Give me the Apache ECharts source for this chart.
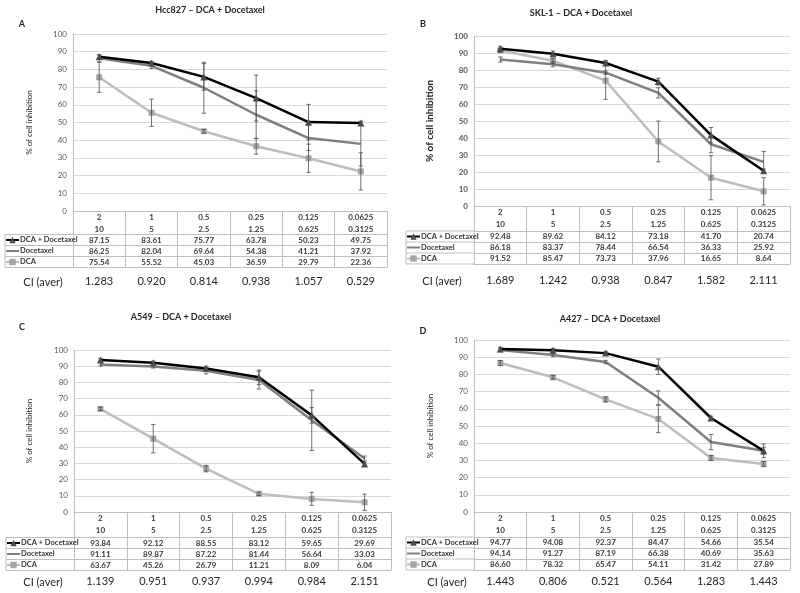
<!DOCTYPE html>
<html><head><meta charset="utf-8">
<script src="https://cdn.jsdelivr.net/npm/echarts@6/dist/echarts.min.js"></script>
<style>html,body{margin:0;padding:0;background:#fff}#c{width:800px;height:593px}</style>
</head><body><div id="c"></div>
<script>
// ---- data ----
const doseDocetaxel = ['2', '1', '0.5', '0.25', '0.125', '0.0625'];
const doseDCA = ['10', '5', '2.5', '1.25', '0.625', '0.3125'];
const seriesNames = ['DCA + Docetaxel', 'Docetaxel', 'DCA'];
const panelTitles = ['Hcc827 – DCA + Docetaxel', 'SKL-1 – DCA + Docetaxel', 'A549 – DCA + Docetaxel', 'A427 – DCA + Docetaxel'];
const panelLetters = ['A', 'B', 'C', 'D'];
const ciLabel = 'CI (aver)';
const yAxisName = '% of cell inhibition';

const hccCombo = [87.15, 83.61, 75.77, 63.78, 50.23, 49.75];
const hccDoc   = [86.25, 82.04, 69.64, 54.38, 41.21, 37.92];
const hccDca   = [75.54, 55.52, 45.03, 36.59, 29.79, 22.36];
const hccCI    = ['1.283', '0.920', '0.814', '0.938', '1.057', '0.529'];
const hccErrCombo = [1, 1, 7.5, 13, 10, 1];
const hccErrDoc   = [2, 1.5, 14.4, 13.5, 7, 12.5];
const hccErrDca   = [8.5, 7.7, 1, 4.5, 8, 10.5];

const sklCombo = [92.48, 89.62, 84.12, 73.18, 41.70, 20.74];
const sklDoc   = [86.18, 83.37, 78.44, 66.54, 36.33, 25.92];
const sklDca   = [91.52, 85.47, 73.73, 37.96, 16.65, 8.64];
const sklCI    = ['1.689', '1.242', '0.938', '0.847', '1.582', '2.111'];
const sklErrCombo = [1.5, 1.5, 1.5, 2, 4.5, 1];
const sklErrDoc   = [1.5, 1.5, 1, 3, 5, 6.2];
const sklErrDca   = [1, 1.5, 11, 12, 13, 8];

const a549Combo = [93.84, 92.12, 88.55, 83.12, 59.65, 29.69];
const a549Doc   = [91.11, 89.87, 87.22, 81.44, 56.64, 33.03];
const a549Dca   = [63.67, 45.26, 26.79, 11.21, 8.09, 6.04];
const a549CI    = ['1.139', '0.951', '0.937', '0.994', '0.984', '2.151'];
const a549ErrCombo = [1, 1, 1.5, 4.5, 4.8, 1];
const a549ErrDoc   = [1, 1, 2, 5.5, 18.6, 1.5];
const a549ErrDca   = [1, 8.8, 2, 1, 4, 5];

const a427Combo = [94.77, 94.08, 92.37, 84.47, 54.66, 35.54];
const a427Doc   = [94.14, 91.27, 87.19, 66.38, 40.69, 35.63];
const a427Dca   = [86.60, 78.32, 65.47, 54.11, 31.42, 27.89];
const a427CI    = ['1.443', '0.806', '0.521', '0.564', '1.283', '1.443'];
const a427ErrCombo = [1, 1, 1, 4.5, 1, 4];
const a427ErrDoc   = [1, 1, 1, 4, 4.4, 2];
const a427ErrDca   = [1.5, 1, 1.5, 8, 1.5, 1.5];

const panels = [
  {combo: hccCombo, doc: hccDoc, dca: hccDca, ci: hccCI, err: [hccErrCombo, hccErrDoc, hccErrDca]},
  {combo: sklCombo, doc: sklDoc, dca: sklDca, ci: sklCI, err: [sklErrCombo, sklErrDoc, sklErrDca]},
  {combo: a549Combo, doc: a549Doc, dca: a549Dca, ci: a549CI, err: [a549ErrCombo, a549ErrDoc, a549ErrDca]},
  {combo: a427Combo, doc: a427Doc, dca: a427Dca, ci: a427CI, err: [a427ErrCombo, a427ErrDoc, a427ErrDca]}
];

// ---- layout (pixels) ----
const layout = [
  {x0: 73,  x1: 387, y0: 34,  y1: 211, h: 23.5, row: 11, ciGap: 8.5, tx: 210, ty: 10,  lx: 22,  ly: 24,  cix: 43,  ciy: 282, nameGap: 40, bold: false},
  {x0: 474, x1: 790, y0: 36,  y1: 206, h: 25,   row: 11, ciGap: 11,  tx: 581, ty: 13,  lx: 423, ly: 24,  cix: 442, ciy: 281, nameGap: 39, bold: true},
  {x0: 74,  x1: 391, y0: 350, y1: 512, h: 25.5, row: 11, ciGap: 5.5, tx: 181, ty: 317, lx: 22,  ly: 327, cix: 43,  ciy: 582, nameGap: 41, bold: false},
  {x0: 474, x1: 790, y0: 340, y1: 512, h: 25,   row: 11, ciGap: 6,   tx: 610, ty: 319, lx: 423, ly: 331, cix: 447, ciy: 582, nameGap: 40, bold: false}
];
const legendColW = 68;

const FONT = 'Lato';
const lineGray = '#bfbfbf';
const styles = [
  {symbol: 'triangle', symbolSize: 7, line: '#000000', item: '#4d4d4d'},
  {symbol: 'circle', symbolSize: 1, line: '#7f7f7f', item: 'rgba(0,0,0,0)', hide: true},
  {symbol: 'rect', symbolSize: 6, line: '#bdbdbd', item: '#a6a6a6'}
];

const grid = [], xAxis = [], yAxis = [], series = [], legend = [], graphic = [];

panels.forEach((p, gi) => {
  const L = layout[gi];
  const base = gi * 5;
  grid.push({left: L.x0, top: L.y0, width: L.x1 - L.x0, height: L.y1 - L.y0, outerBoundsMode: 'none', containLabel: false});
  const tableH = L.h + 3 * L.row;
  xAxis.push({
    type: 'category', gridIndex: gi, data: doseDocetaxel, position: 'bottom', boundaryGap: true,
    axisLine: {show: true, lineStyle: {color: lineGray, width: 1}},
    axisTick: {show: true, interval: 0, length: tableH, lineStyle: {color: lineGray, width: 1}},
    axisLabel: {interval: 0, margin: 0, fontSize: 8, fontWeight: 'bold', color: '#3a3a3a', lineHeight: 12,
      fontFamily: FONT, formatter: (v, i) => v + '\n' + doseDCA[i]}
  });
  const rows = [p.combo, p.doc, p.dca];
  rows.forEach((vals, k) => {
    xAxis.push({
      type: 'category', gridIndex: gi, data: doseDocetaxel, position: 'bottom', offset: L.h + k * L.row,
      axisLine: {show: true, lineStyle: {color: lineGray, width: 1}},
      axisTick: {show: false},
      axisLabel: {interval: 0, margin: 1.5, fontSize: 8, fontWeight: 'bold', color: '#3a3a3a', fontFamily: FONT,
        formatter: (v, i) => vals[i].toFixed(2)}
    });
  });
  xAxis.push({
    type: 'category', gridIndex: gi, data: doseDocetaxel, position: 'bottom', offset: tableH,
    axisLine: {show: true, lineStyle: {color: lineGray, width: 1}},
    axisTick: {show: false},
    axisLabel: {interval: 0, margin: L.ciGap, fontSize: 11, color: '#262626', fontFamily: FONT,
      formatter: (v, i) => p.ci[i]}
  });
  yAxis.push({
    type: 'value', gridIndex: gi, min: 0, max: 100, interval: 10,
    name: yAxisName, nameLocation: 'middle', nameGap: L.nameGap, nameRotate: 90,
    nameTextStyle: {fontSize: L.bold ? 10 : 8, fontWeight: L.bold ? 'bold' : 'normal', color: '#262626', fontFamily: FONT},
    axisLine: {show: true, lineStyle: {color: lineGray}},
    axisTick: {show: false},
    axisLabel: {fontSize: 8, color: '#595959', margin: 6, fontFamily: FONT, fontWeight: L.bold ? 'bold' : 'normal'},
    splitLine: {show: true, lineStyle: {color: '#d9d9d9', width: 1}}
  });
  rows.forEach((vals, k) => {
    const errs = p.err[k];
    series.push({
      type: 'custom', xAxisIndex: base, yAxisIndex: gi, silent: true, z: 6,
      data: vals.map((v, i) => [i, v - errs[i], v + errs[i]]),
      renderItem: (params, api) => {
        const x = api.value(0);
        const lo = api.coord([x, api.value(1)]);
        const hi = api.coord([x, api.value(2)]);
        const w = 2.2;
        const st = {stroke: '#4d4d4d', lineWidth: 0.8};
        return {type: 'group', children: [
          {type: 'line', shape: {x1: lo[0], y1: lo[1], x2: hi[0], y2: hi[1]}, style: st},
          {type: 'line', shape: {x1: lo[0] - w, y1: lo[1], x2: lo[0] + w, y2: lo[1]}, style: st},
          {type: 'line', shape: {x1: hi[0] - w, y1: hi[1], x2: hi[0] + w, y2: hi[1]}, style: st}
        ]};
      }
    });
  });
  [2, 1, 0].forEach(k => {
    const s = styles[k];
    series.push({
      type: 'line', name: seriesNames[k], xAxisIndex: base, yAxisIndex: gi, data: rows[k],
      symbol: s.symbol, symbolSize: s.symbolSize, showSymbol: !s.hide,
      lineStyle: {color: s.line, width: 2.5}, itemStyle: {color: s.item}, z: 3 + (2 - k),
      animation: false
    });
  });
  const colLeft = L.x0 - legendColW;
  legend.push({
    orient: 'vertical', left: colLeft, top: L.y1 + L.h, padding: 0, itemGap: 0, itemWidth: 13, itemHeight: 8,
    selectedMode: false, data: seriesNames,
    textStyle: {fontSize: 7.5, fontWeight: 'bold', color: '#333', lineHeight: L.row, fontFamily: FONT, padding: [0, 0, 0, -4]}
  });
  graphic.push({type: 'text', x: L.tx, y: L.ty, style: {text: panelTitles[gi], align: 'center', verticalAlign: 'middle', font: 'bold 9px ' + FONT, fill: '#262626'}});
  graphic.push({type: 'text', x: L.lx, y: L.ly, style: {text: panelLetters[gi], align: 'center', verticalAlign: 'middle', font: 'bold 9px ' + FONT, fill: '#262626'}});
  graphic.push({type: 'text', x: L.cix, y: L.ciy, style: {text: ciLabel, align: 'center', verticalAlign: 'middle', font: '11px ' + FONT, fill: '#262626'}});
  const yTop = L.y1 + L.h;
  for (let k = 0; k <= 3; k++) {
    const yy = yTop + k * L.row;
    graphic.push({type: 'line', shape: {x1: colLeft, y1: yy, x2: L.x0, y2: yy}, style: {stroke: lineGray, lineWidth: 1}});
  }
  graphic.push({type: 'line', shape: {x1: colLeft, y1: yTop, x2: colLeft, y2: yTop + 3 * L.row}, style: {stroke: lineGray, lineWidth: 1}});
});

const chart = echarts.init(document.getElementById('c'), null, {renderer: 'canvas'});
chart.setOption({
  backgroundColor: '#ffffff',
  animation: false,
  textStyle: {fontFamily: FONT},
  grid, xAxis, yAxis, series, legend, graphic
});
</script></body></html>
